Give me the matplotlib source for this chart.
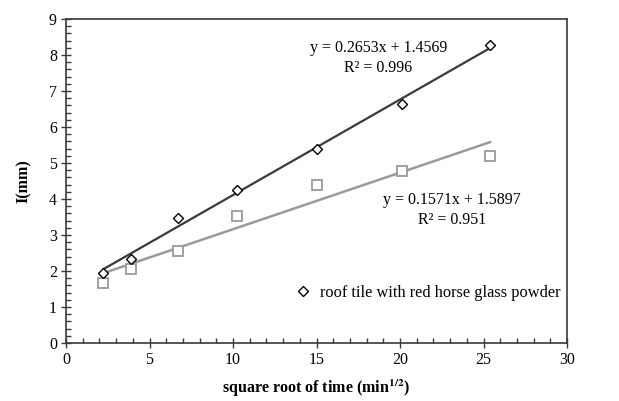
import matplotlib
matplotlib.use("Agg")
import matplotlib.pyplot as plt
from matplotlib.ticker import MultipleLocator
from matplotlib.lines import Line2D

plt.rcParams["font.family"] = ["Liberation Serif", "DejaVu Serif"]
plt.rcParams["mathtext.fontset"] = "stix"

# square root of time (min^1/2)
X = [2.24, 3.87, 6.71, 10.25, 15.0, 20.12, 25.4]
# glass powder tile
I_DIAMOND = [1.95, 2.34, 3.47, 4.26, 5.39, 6.64, 8.28]
# second series (grey squares)
I_SQUARE = [1.66, 2.06, 2.56, 3.52, 4.40, 4.78, 5.20]

# trendline coefficients as printed on the chart
FIT_DIAMOND = (0.2653, 1.4569, 0.996)
FIT_SQUARE = (0.1571, 1.5897, 0.951)

DARK = "#3a3a3a"
GREY = "#9a9a9a"

fig = plt.figure(figsize=(6.19, 4.01), dpi=100)
ax = fig.add_axes([66 / 619, 1 - 343 / 401, (567 - 66) / 619, (343 - 19) / 401])

xs = [min(X), max(X)]
ax.plot(xs, [FIT_DIAMOND[0] * v + FIT_DIAMOND[1] for v in xs], color=DARK, lw=1.6, zorder=2)
ax.plot(xs, [FIT_SQUARE[0] * v + FIT_SQUARE[1] for v in xs], color=GREY, lw=1.8, zorder=2)

ax.plot(X, I_SQUARE, ls="none", marker="s", ms=7, mfc="white", mec=GREY, mew=1.3, zorder=3)
ax.plot(X, I_DIAMOND, ls="none", marker="D", ms=5, mfc="white", mec="black", mew=1.0, zorder=4)

ax.text(18.7, 8.19, f"y = {FIT_DIAMOND[0]}x + {FIT_DIAMOND[1]}", ha="center", va="center", fontsize=11.5)
ax.text(18.7, 7.63, f"R² = {FIT_DIAMOND[2]}", ha="center", va="center", fontsize=11.5)
ax.text(23.1, 3.96, f"y = {FIT_SQUARE[0]}x + {FIT_SQUARE[1]}", ha="center", va="center", fontsize=11.5)
ax.text(23.1, 3.43, f"R² = {FIT_SQUARE[2]}", ha="center", va="center", fontsize=11.5)

handle = Line2D([], [], ls="none", marker="D", ms=5, mfc="white", mec="black", mew=1.0)
ax.legend([handle], ["roof tile with red horse glass powder"], loc="center",
          bbox_to_anchor=(0.72, 0.155), frameon=False, fontsize=11.8,
          handletextpad=0.4, handlelength=1.2)

ax.set_xlim(0, 30)
ax.set_ylim(0, 9)
ax.xaxis.set_major_locator(MultipleLocator(5))
ax.xaxis.set_minor_locator(MultipleLocator(1))
ax.yaxis.set_major_locator(MultipleLocator(1))
ax.yaxis.set_minor_locator(MultipleLocator(0.2))
ax.tick_params(which="major", direction="inout", length=7, width=1, color=DARK, labelsize=11.5, pad=3)
ax.tick_params(which="minor", direction="in", length=3.5, width=1, color=DARK)
for sp in ax.spines.values():
    sp.set_color(DARK)
    sp.set_linewidth(1.2)

ax.set_xlabel("square root of time (min$^{\\mathbf{1/2}}$)", fontsize=11.5, fontweight="bold", labelpad=7)
ax.set_ylabel("I(mm)", fontsize=11.5, fontweight="bold", labelpad=12)

fig.savefig("out.png", dpi=100)
